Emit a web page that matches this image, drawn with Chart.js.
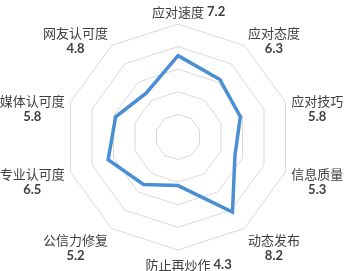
<!DOCTYPE html>
<html lang="zh">
<head>
<meta charset="utf-8">
<title>雷达图</title>
<script src="https://cdn.jsdelivr.net/npm/chart.js"></script>
<style>
  html, body { margin: 0; padding: 0; background: #fff; }
</style>
</head>
<body>
<canvas id="radarChart" width="350" height="271"></canvas>
<script>
const categories = ["应对速度", "应对态度", "应对技巧", "信息质量", "动态发布", "防止再炒作", "公信力修复", "专业认可度", "媒体认可度", "网友认可度"];
const scores = [7.2, 6.3, 5.8, 5.3, 8.2, 4.3, 5.2, 6.5, 5.8, 4.8];
const ringTicks = [0, 2, 4, 6, 8, 10];

// vertikaler Versatz der Beschriftung je Achse
const labelShift = [-6, 0, 9, 8, 15, 9, 15, 8, 9, 0];

const labelPlugin = {
  id: "pointTexts",
  afterDraw(chart) {
    const scale = chart.scales.r;
    const ctx = chart.ctx;
    const nameFont = '13px "Noto Sans CJK SC"';
    const valueFont = 'bold 13px Lato';
    ctx.save();
    ctx.fillStyle = "#404040";
    ctx.textBaseline = "middle";
    categories.forEach((name, i) => {
      const p = scale.getPointPosition(i, scale.drawingArea + 6);
      const y = p.y + labelShift[i];
      const value = scores[i].toFixed(1);
      const dx = p.x - scale.xCenter;
      ctx.font = nameFont;
      const w = ctx.measureText(name).width;
      if (Math.abs(dx) < 2) {
        // eine Zeile: Name mittig, Wert rechts daneben
        ctx.textAlign = "center";
        ctx.fillText(name, p.x, y);
        ctx.font = valueFont;
        ctx.textAlign = "left";
        ctx.fillText(value, p.x + w / 2 + 3, y);
        return;
      }
      const left = dx > 0 ? p.x : p.x - w;
      ctx.textAlign = "center";
      ctx.fillText(name, left + w / 2, y - 8);
      ctx.font = valueFont;
      ctx.fillText(value, left + w / 2, y + 8);
    });
    ctx.restore();
  }
};

const ctx = document.getElementById("radarChart").getContext("2d");
new Chart(ctx, {
  type: "radar",
  data: {
    labels: categories,
    datasets: [{
      data: scores,
      borderColor: "#4a8fd3",
      borderWidth: 3.5,
      fill: false,
      pointRadius: 0,
      tension: 0
    }]
  },
  options: {
    responsive: false,
    animation: false,
    layout: { padding: { left: 65, right: 59, top: 24, bottom: 21 } },
    plugins: { legend: { display: false }, tooltip: { enabled: false } },
    scales: {
      r: {
        min: ringTicks[0],
        max: ringTicks[ringTicks.length - 1],
        ticks: { stepSize: ringTicks[1] - ringTicks[0], display: false },
        grid: { color: "#d9d9d9", lineWidth: 1 },
        angleLines: { display: false },
        pointLabels: { display: false }
      }
    }
  },
  plugins: [labelPlugin]
});
</script>
</body>
</html>
